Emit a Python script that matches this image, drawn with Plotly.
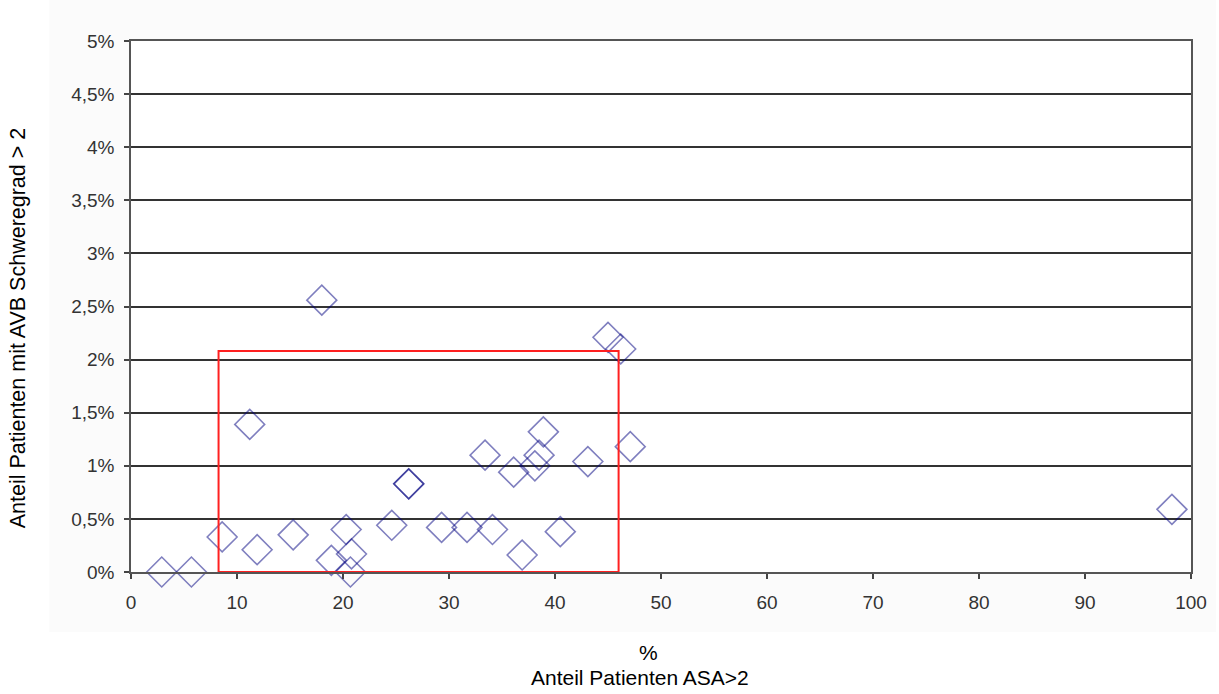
import plotly.graph_objects as go

# Data: share of patients ASA>2 (%) vs share of patients with AVB severity > 2 (%)
asa_pct = [2.9, 5.7, 8.6, 11.9, 11.2, 15.3, 18.0, 18.9, 20.3, 20.8, 20.7,
           26.2, 26.2, 24.6, 29.3, 31.7, 34.1, 36.9, 33.4, 36.1, 38.1, 38.5,
           38.9, 40.5, 43.1, 45.0, 46.2, 47.1, 98.2]
avb_pct = [0.00, 0.00, 0.33, 0.21, 1.39, 0.35, 2.56, 0.11, 0.40, 0.17, 0.00,
           0.83, 0.83, 0.44, 0.42, 0.42, 0.40, 0.16, 1.10, 0.94, 1.00, 1.10,
           1.32, 0.38, 1.04, 2.21, 2.10, 1.18, 0.59]

# Highlight box (x range, y range)
box_x = [8.26, 46.0]
box_y = [0.0, 2.08]

x_ticks = [0, 10, 20, 30, 40, 50, 60, 70, 80, 90, 100]
y_ticks = [0, 0.5, 1, 1.5, 2, 2.5, 3, 3.5, 4, 4.5, 5]
y_ticktext = ["0%", "0,5%", "1%", "1,5%", "2%", "2,5%", "3%", "3,5%", "4%", "4,5%", "5%"]

FONT = "Liberation Sans, Arial, sans-serif"

fig = go.Figure()
fig.add_trace(go.Scatter(
    x=asa_pct, y=avb_pct, mode="markers", cliponaxis=False,
    marker=dict(symbol="diamond-open", size=23,
                color="rgba(0,0,128,0.5)",
                line=dict(width=1.6, color="rgba(0,0,128,0.5)")),
    showlegend=False, hoverinfo="x+y",
))

L, R, T, B = 131, 25, 41, 122
W, H = 1219, 694
pw, ph = W - L - R, H - T - B

shapes = [
    # light chart-area panel
    dict(type="rect", xref="paper", yref="paper",
         x0=(49 - L) / pw, x1=(W - L) / pw, y0=-(632 - (H - B)) / ph, y1=(H - B) / ph,
         fillcolor="#FBFBFB", line=dict(width=0), layer="below"),
    # white plot area
    dict(type="rect", xref="paper", yref="paper", x0=0, x1=1, y0=0, y1=1,
         fillcolor="white", line=dict(width=0), layer="below"),
    # red highlight box
    dict(type="rect", xref="x", yref="y", x0=box_x[0], x1=box_x[1],
         y0=box_y[0], y1=box_y[1], line=dict(color="#FF2020", width=2),
         fillcolor="rgba(0,0,0,0)", layer="above"),
]

fig.update_layout(
    width=W, height=H,
    margin=dict(l=L, r=R, t=T, b=B),
    paper_bgcolor="white", plot_bgcolor="white",
    font=dict(family=FONT, color="#333333"),
    shapes=shapes,
    xaxis=dict(range=[0, 100], tickvals=x_ticks, ticks="outside", ticklen=5,
               tickwidth=1.5, tickcolor="#444444",
               showgrid=False, zeroline=False, showline=True, mirror=True,
               linecolor="#555555", linewidth=1.5,
               tickfont=dict(size=19, color="#333333", family=FONT),
               ticklabelstandoff=7),
    yaxis=dict(range=[0, 5], tickvals=y_ticks, ticktext=y_ticktext,
               ticks="outside", ticklen=5, tickwidth=1.5, tickcolor="#444444",
               showgrid=True, gridcolor="#333333", gridwidth=1.5,
               zeroline=False, showline=True, mirror=True,
               linecolor="#555555", linewidth=1.5,
               tickfont=dict(size=19, color="#333333", family=FONT),
               ticklabelstandoff=6),
    annotations=[
        dict(text="%", xref="paper", yref="paper",
             x=(650 - L) / pw, y=-(652 - (H - B)) / ph,
             showarrow=False, xanchor="center", yanchor="middle",
             font=dict(size=21, color="black", family=FONT)),
        dict(text="Anteil Patienten ASA>2", xref="paper", yref="paper",
             x=(641 - L) / pw, y=-(677 - (H - B)) / ph,
             showarrow=False, xanchor="center", yanchor="middle",
             font=dict(size=21, color="black", family=FONT)),
        dict(text="Anteil Patienten mit AVB Schweregrad > 2", xref="paper", yref="paper",
             x=(18 - L) / pw, y=((H - B) - 328) / ph, textangle=-90,
             showarrow=False, xanchor="center", yanchor="middle",
             font=dict(size=21.5, color="black", family=FONT)),
    ],
)

fig.write_html("out.html")
